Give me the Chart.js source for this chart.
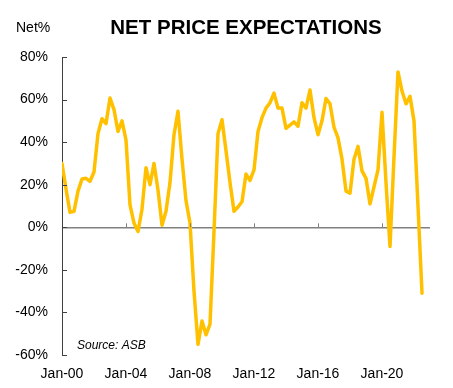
<!DOCTYPE html>
<html>
<head>
<meta charset="utf-8">
<script src="https://cdn.jsdelivr.net/npm/chart.js@4"></script>
<style>
  html, body { margin: 0; padding: 0; background: #fff; }
  #wrap { width: 453px; height: 388px; }
</style>
</head>
<body>
<div id="wrap"><canvas id="chart" width="453" height="388"></canvas></div>
<script>
// Net price expectations, quarterly from Jan-00 (Source: ASB)
const tickLabels = ['Jan-00', 'Jan-04', 'Jan-08', 'Jan-12', 'Jan-16', 'Jan-20'];
const netPct = [
    30, 18, 7, 7.5, 17, 22.7, 23, 21.6, 26, 44, 51, 48.7, 60.7, 55.3, 45, 50,
    41, 10.5, 2, -2, 8.5, 28, 20, 30, 17.5, 1, 7.5, 21, 43.5, 54.5, 32, 12.5,
    2, -30, -55, -44, -50.5, -45.5, -2, 44, 50.5, 36, 21, 7.5, 9.5, 12, 25, 22,
    27, 45, 51.5, 56, 58.5, 63, 56, 56, 46.5, 48, 49.5, 47.5, 58.5, 56, 64.5, 51.5,
    43.5, 50, 60.5, 58, 47, 42, 32, 17, 16, 32, 38, 26.5, 23, 11, 19, 27,
    54, 21, -9, 33, 73, 64, 58, 61.5, 50, 10, -31
];
const quartersPerLabel = 16;
const lastQuarter = 92;

const FONT = "'Liberation Sans', Arial, sans-serif";

// titulo, textos y marcas de eje hacia dentro
const extras = {
    id: 'extras',
    afterDraw(chart) {
        const { ctx, chartArea, scales } = chart;
        const y0 = scales.y.getPixelForValue(0);
        ctx.save();
        ctx.strokeStyle = '#404040';
        ctx.lineWidth = 1;
        scales.y.ticks.forEach(t => {
            const py = Math.round(scales.y.getPixelForValue(t.value)) + 0.5;
            ctx.beginPath();
            ctx.moveTo(chartArea.left, py);
            ctx.lineTo(chartArea.left + 5, py);
            ctx.stroke();
        });
        ctx.strokeStyle = '#808080';
        scales.x.ticks.forEach(t => {
            if (t.value === 0) return;
            const px = Math.round(scales.x.getPixelForValue(t.value)) + 0.5;
            ctx.beginPath();
            ctx.moveTo(px, y0);
            ctx.lineTo(px, y0 - 4);
            ctx.stroke();
        });

        ctx.fillStyle = '#000';
        ctx.textBaseline = 'alphabetic';
        ctx.textAlign = 'center';
        ctx.font = 'bold 20.5px ' + FONT;
        ctx.fillText('NET PRICE EXPECTATIONS', (chartArea.left + chartArea.right) / 2, 34);
        ctx.textAlign = 'left';
        ctx.font = '14px ' + FONT;
        ctx.fillText('Net%', 16, 32);
        ctx.font = 'italic 12px ' + FONT;
        ctx.fillText('Source: ASB', 77, 349);
        ctx.restore();
    }
};

new Chart(document.getElementById('chart'), {
    type: 'line',
    data: {
        datasets: [{
            label: 'Net price expectations',
            data: netPct.map((v, i) => ({ x: i, y: v })),
            borderColor: '#FFC000',
            borderWidth: 3.5,
            borderJoinStyle: 'round',
            borderCapStyle: 'round',
            pointRadius: 0,
            tension: 0,
            fill: false
        }]
    },
    options: {
        responsive: false,
        animation: false,
        layout: { padding: { top: 57, right: 23, left: 0, bottom: 0 } },
        plugins: {
            legend: { display: false },
            title: { display: false },
            tooltip: { enabled: false }
        },
        scales: {
            x: {
                type: 'linear',
                min: 0,
                max: lastQuarter,
                afterFit(scale) { scale.height = 33; },
                afterBuildTicks(scale) {
                    scale.ticks = tickLabels.map((_, i) => ({ value: i * quartersPerLabel }));
                },
                ticks: {
                    autoSkip: false,
                    maxRotation: 0,
                    padding: 3,
                    color: '#000',
                    font: { family: FONT, size: 14 },
                    callback: v => tickLabels[v / quartersPerLabel] || ''
                },
                grid: { display: false },
                border: { display: false }
            },
            y: {
                min: -60,
                max: 80,
                afterFit(scale) { scale.width = 62; },
                ticks: {
                    stepSize: 20,
                    padding: 14,
                    color: '#000',
                    font: { family: FONT, size: 14 },
                    callback: v => v + '%'
                },
                grid: {
                    drawTicks: false,
                    lineWidth: 1.5,
                    color: c => (c.tick && c.tick.value === 0) ? '#808080' : 'rgba(0,0,0,0)'
                },
                border: { display: true, color: '#404040', width: 1 }
            }
        }
    },
    plugins: [extras]
});
</script>
</body>
</html>
